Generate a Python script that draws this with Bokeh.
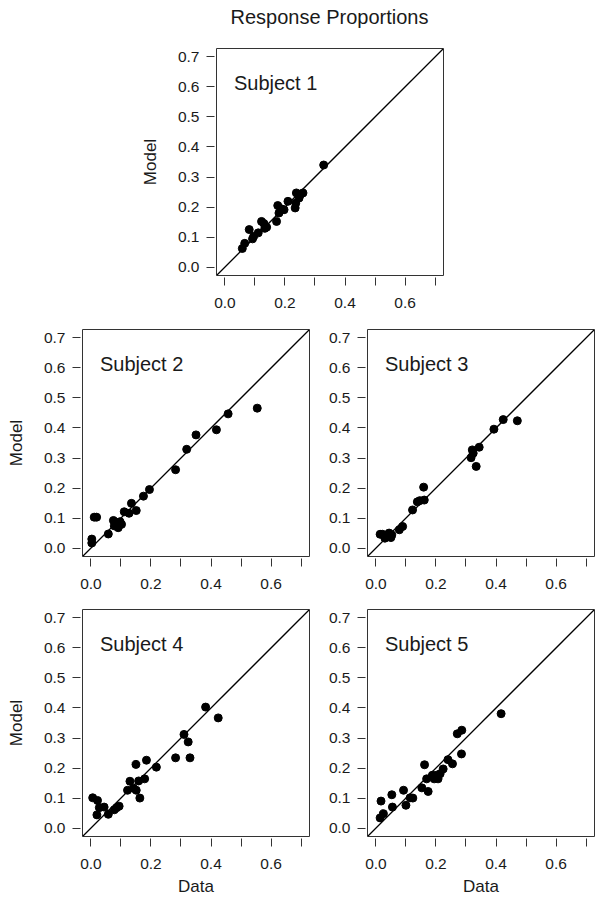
from bokeh.plotting import figure
from bokeh.layouts import column, row
from bokeh.models import Range1d, FixedTicker, CustomJSTickFormatter, Slope, Label, Div
from bokeh.embed import file_html
from bokeh.resources import INLINE

# ---- data ----
title_text = "Response Proportions"
subjects = ["Subject 1", "Subject 2", "Subject 3", "Subject 4", "Subject 5"]

s1_data = [0.058, 0.066, 0.081, 0.092, 0.096, 0.111, 0.122, 0.130, 0.133, 0.139, 0.172, 0.176,
           0.180, 0.188, 0.197, 0.210, 0.234, 0.236, 0.238, 0.247, 0.251, 0.260, 0.329]
s1_model = [0.062, 0.079, 0.125, 0.094, 0.103, 0.114, 0.152, 0.145, 0.129, 0.133, 0.152, 0.205,
            0.180, 0.194, 0.191, 0.219, 0.197, 0.213, 0.247, 0.230, 0.241, 0.247, 0.340]

s2_data = [0.003, 0.003, 0.011, 0.019, 0.058, 0.075, 0.078, 0.091, 0.097, 0.102, 0.111, 0.127,
           0.135, 0.151, 0.175, 0.195, 0.282, 0.319, 0.350, 0.418, 0.457, 0.554]
s2_model = [0.017, 0.030, 0.103, 0.103, 0.047, 0.092, 0.074, 0.068, 0.088, 0.079, 0.121, 0.116,
            0.149, 0.125, 0.173, 0.195, 0.261, 0.329, 0.377, 0.394, 0.447, 0.466]

s3_data = [0.014, 0.022, 0.030, 0.035, 0.044, 0.050, 0.053, 0.078, 0.089, 0.122, 0.138, 0.146,
           0.159, 0.161, 0.317, 0.321, 0.324, 0.334, 0.344, 0.393, 0.424, 0.471]
s3_model = [0.046, 0.046, 0.033, 0.041, 0.050, 0.035, 0.044, 0.061, 0.072, 0.127, 0.154, 0.158,
            0.203, 0.160, 0.301, 0.327, 0.316, 0.272, 0.336, 0.396, 0.428, 0.424]

s4_data = [0.006, 0.022, 0.020, 0.028, 0.044, 0.058, 0.078, 0.086, 0.094, 0.122, 0.130, 0.142,
           0.150, 0.151, 0.159, 0.163, 0.179, 0.185, 0.218, 0.282, 0.310, 0.324, 0.330, 0.382, 0.424]
s4_model = [0.101, 0.092, 0.044, 0.068, 0.070, 0.046, 0.061, 0.068, 0.073, 0.126, 0.156, 0.133,
            0.212, 0.126, 0.157, 0.100, 0.164, 0.226, 0.203, 0.234, 0.312, 0.287, 0.234, 0.403, 0.367]

s5_data = [0.014, 0.017, 0.025, 0.053, 0.055, 0.092, 0.100, 0.114, 0.123, 0.153, 0.162, 0.169,
           0.174, 0.188, 0.194, 0.202, 0.207, 0.214, 0.224, 0.240, 0.255, 0.271, 0.286, 0.285, 0.417]
s5_model = [0.034, 0.090, 0.048, 0.111, 0.070, 0.126, 0.076, 0.101, 0.100, 0.134, 0.211, 0.164,
            0.122, 0.176, 0.164, 0.176, 0.164, 0.181, 0.197, 0.228, 0.214, 0.314, 0.326, 0.247, 0.381]

tick_values = [0.0, 0.1, 0.2, 0.3, 0.4, 0.5, 0.6, 0.7]
axis_min, axis_max = -0.028, 0.728

FONT = "Liberation Sans"
TXT = "#1a1a1a"


def panel(name, xs, ys, left, right, top, bottom, xlabel=None, ylabel=None):
    p = figure(frame_width=227, frame_height=227,
               x_range=Range1d(axis_min, axis_max), y_range=Range1d(axis_min, axis_max),
               output_backend="svg", toolbar_location=None,
               min_border_left=left, min_border_right=right,
               min_border_top=top, min_border_bottom=bottom)
    p.grid.visible = False
    p.outline_line_color = "#333333"
    p.outline_line_width = 1
    p.background_fill_color = "white"
    p.border_fill_color = "white"

    for ax in (p.xaxis[0], p.yaxis[0]):
        ax.ticker = FixedTicker(ticks=tick_values)
        ax.axis_line_color = None
        ax.major_tick_in = -2
        ax.major_tick_out = 10
        ax.major_tick_line_color = "#333333"
        ax.minor_tick_line_color = None
        ax.major_label_text_font = FONT
        ax.major_label_text_font_size = "15.5px"
        ax.major_label_text_color = TXT
        ax.axis_label_text_font = FONT
        ax.axis_label_text_font_size = "17px"
        ax.axis_label_text_font_style = "normal"
        ax.axis_label_text_color = TXT
    p.xaxis[0].formatter = CustomJSTickFormatter(
        code="return (Math.round(tick*10) % 2 == 0) ? tick.toFixed(1) : '';")
    p.yaxis[0].formatter = CustomJSTickFormatter(code="return tick.toFixed(1);")
    p.yaxis[0].major_label_orientation = "horizontal"
    p.xaxis[0].major_label_standoff = 12
    p.yaxis[0].major_label_standoff = 7
    p.xaxis[0].axis_label_standoff = 5
    p.yaxis[0].axis_label_standoff = 15
    if xlabel:
        p.xaxis[0].axis_label = xlabel
    if ylabel:
        p.yaxis[0].axis_label = ylabel

    p.add_layout(Slope(gradient=1, y_intercept=0, line_color="black", line_width=1.3))
    p.scatter(xs, ys, size=8, marker="circle", fill_color="black", line_color="black")
    p.add_layout(Label(x=0.03, y=0.612, text=name, text_font=FONT, text_font_size="20px",
                       text_baseline="alphabetic", text_color=TXT))
    return p


title = Div(text=title_text, width=227, height=34, margin=(0, 0, 0, 216),
            styles={"font-family": FONT, "font-size": "20px", "color": TXT,
                    "text-align": "center", "line-height": "34px"})

p1 = panel(subjects[0], s1_data, s1_model, 216, 10, 14, 44, ylabel="Model")
p2 = panel(subjects[1], s2_data, s2_model, 82, 5, 10, 43, ylabel="Model")
p3 = panel(subjects[2], s3_data, s3_model, 53, 5, 10, 43)
p4 = panel(subjects[3], s4_data, s4_model, 82, 5, 10, 58, xlabel="Data", ylabel="Model")
p5 = panel(subjects[4], s5_data, s5_model, 53, 5, 10, 58, xlabel="Data")

layout = column(title, p1, row(p2, p3), row(p4, p5))

open("out.html", "w").write(file_html(layout, INLINE))
